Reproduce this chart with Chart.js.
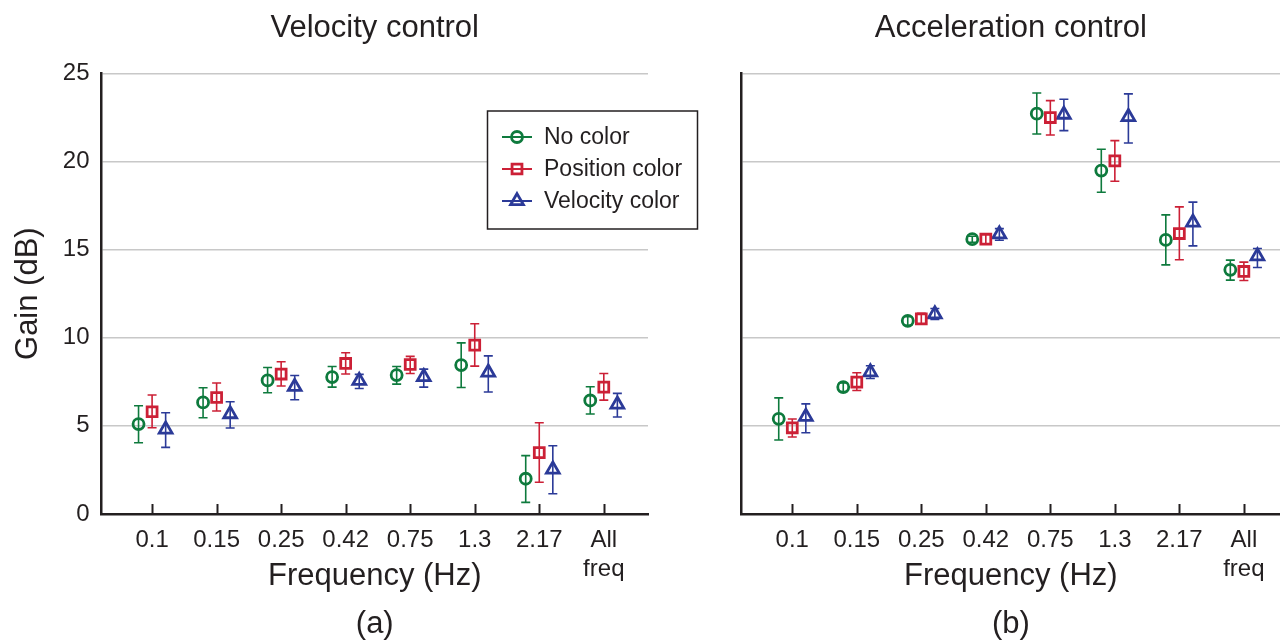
<!DOCTYPE html>
<html>
<head>
<meta charset="utf-8">
<title>Gain by frequency</title>
<script src="https://cdn.jsdelivr.net/npm/chart.js@4.4.1/dist/chart.umd.min.js"></script>
<style>
  html, body { margin: 0; padding: 0; background: #fff; }
  #wrap { position: relative; width: 1280px; height: 643px; overflow: hidden; }
  #velChart { position: absolute; left: 0; top: 0; }
  #accChart { position: absolute; left: 710px; top: 0; }
</style>
</head>
<body>
<div id="wrap">
  <canvas id="velChart" width="710" height="643"></canvas>
  <canvas id="accChart" width="620" height="643"></canvas>
</div>
<script>
// Gain (dB) per stimulus frequency, mean with error range

const categories = ['0.1', '0.15', '0.25', '0.42', '0.75', '1.3', '2.17', ['All', 'freq']];
const yTicks = [0, 5, 10, 15, 20, 25];
const seriesNames = ['No color', 'Position color', 'Velocity color'];

// Velocity control (a)
const velNoColor = [5.10, 6.33, 7.58, 7.77, 7.88, 8.45, 2.00, 6.44];
const velNoColorLow = [4.04, 5.46, 6.88, 7.20, 7.37, 7.18, 0.66, 5.67];
const velNoColorHigh = [6.14, 7.16, 8.31, 8.37, 8.37, 9.71, 3.31, 7.22];
const velPosColor = [5.80, 6.61, 7.94, 8.54, 8.48, 9.58, 3.48, 7.20];
const velPosColorLow = [4.89, 5.84, 7.26, 7.94, 7.97, 8.39, 1.80, 6.46];
const velPosColorHigh = [6.75, 7.43, 8.64, 9.15, 8.94, 10.79, 5.18, 7.97];
const velVelColor = [4.80, 5.67, 7.22, 7.56, 7.78, 8.03, 2.53, 6.22];
const velVelColorLow = [3.78, 4.88, 6.48, 7.12, 7.20, 6.92, 1.15, 5.50];
const velVelColorHigh = [5.74, 6.37, 7.86, 7.92, 8.22, 8.97, 3.87, 6.84];

// Acceleration control (b)
const accNoColor = [5.40, 7.20, 10.96, 15.59, 22.71, 19.48, 15.55, 13.85];
const accNoColorLow = [4.20, 6.95, 10.71, 15.42, 21.56, 18.25, 14.13, 13.27];
const accNoColorHigh = [6.59, 7.44, 11.19, 15.76, 23.88, 20.69, 16.97, 14.40];
const accPosColor = [4.89, 7.48, 11.07, 15.59, 22.49, 20.03, 15.91, 13.76];
const accPosColorLow = [4.37, 7.01, 10.77, 15.31, 21.50, 18.88, 14.42, 13.25];
const accPosColorHigh = [5.39, 8.01, 11.38, 15.87, 23.45, 21.18, 17.42, 14.29];
const accVelColor = [5.52, 8.05, 11.34, 15.87, 22.66, 22.53, 16.54, 14.63];
const accVelColorLow = [4.61, 7.69, 11.04, 15.53, 21.75, 21.05, 15.21, 13.98];
const accVelColorHigh = [6.25, 8.41, 11.66, 16.19, 23.53, 23.83, 17.69, 15.06];

// Styling
const INK = '#231f20';
const GRID = '#c8c8c8';
const colors = ['#0e7a3d', '#cc2036', '#2b3a98'];
const shapes = ['circle', 'rect', 'triangle'];
const radii = [5.5, 7, 7.4];
const dodge = [-0.21, 0, 0.21];

Chart.defaults.font.family = '"Liberation Sans", Arial, Helvetica, sans-serif';
Chart.defaults.color = INK;

function buildDatasets(means, lows, highs) {
  return means.map((vals, s) => ({
    label: seriesNames[s],
    data: vals.map((v, i) => ({ x: i + dodge[s], y: v, lo: lows[s][i], hi: highs[s][i] })),
    pointStyle: shapes[s],
    pointRadius: radii[s],
    pointHoverRadius: radii[s],
    borderColor: colors[s],
    backgroundColor: 'rgba(0,0,0,0)',
    borderWidth: 2.8,
    showLine: false
  }));
}

// Vertical error bars with caps, drawn under the markers
const errorBars = {
  id: 'errorBars',
  beforeDatasetsDraw(chart) {
    const { ctx, scales: { x, y } } = chart;
    ctx.save();
    ctx.lineWidth = 1.6;
    chart.data.datasets.forEach(ds => {
      ctx.strokeStyle = ds.borderColor;
      ds.data.forEach(p => {
        const px = x.getPixelForValue(p.x);
        const top = y.getPixelForValue(p.hi);
        const bot = y.getPixelForValue(p.lo);
        ctx.beginPath();
        ctx.moveTo(px, top);
        ctx.lineTo(px, bot);
        ctx.moveTo(px - 4.5, top);
        ctx.lineTo(px + 4.5, top);
        ctx.moveTo(px - 4.5, bot);
        ctx.lineTo(px + 4.5, bot);
        ctx.stroke();
      });
    });
    ctx.restore();
  }
};

// Short tick marks pointing into the plot
const innerTicks = {
  id: 'innerTicks',
  afterDraw(chart) {
    const { ctx, chartArea, scales: { x } } = chart;
    ctx.save();
    ctx.strokeStyle = INK;
    ctx.lineWidth = 2;
    categories.forEach((c, i) => {
      const px = Math.round(x.getPixelForValue(i)) + 0.5;
      ctx.beginPath();
      ctx.moveTo(px, chartArea.bottom);
      ctx.lineTo(px, chartArea.bottom - 10);
      ctx.stroke();
    });
    ctx.restore();
  }
};

// Boxed legend with line-through markers
const boxLegend = {
  id: 'boxLegend',
  afterDraw(chart) {
    const { ctx } = chart;
    const box = { left: 487.5, top: 111, width: 210, height: 118 };
    ctx.save();
    ctx.fillStyle = '#fff';
    ctx.fillRect(box.left, box.top, box.width, box.height);
    ctx.strokeStyle = INK;
    ctx.lineWidth = 1.5;
    ctx.strokeRect(box.left, box.top, box.width, box.height);
    ctx.font = '23px "Liberation Sans", Arial, sans-serif';
    ctx.textBaseline = 'middle';
    chart.data.datasets.forEach((ds, s) => {
      const rowY = 137 + s * 32;
      ctx.strokeStyle = ds.borderColor;
      ctx.lineWidth = 2;
      ctx.beginPath();
      ctx.moveTo(502, rowY);
      ctx.lineTo(532, rowY);
      ctx.stroke();
      ctx.fillStyle = 'rgba(0,0,0,0)';
      ctx.lineWidth = 2.8;
      Chart.helpers.drawPoint(ctx, { pointStyle: shapes[s], radius: radii[s], borderWidth: 2.8, rotation: 0 }, 517, rowY);
      ctx.fillStyle = INK;
      ctx.fillText(ds.label, 544, rowY + 1);
    });
    ctx.restore();
  }
};

function makeChart(canvasId, opts) {
  const chart = new Chart(document.getElementById(canvasId), {
    type: 'scatter',
    data: { datasets: buildDatasets(opts.means, opts.lows, opts.highs) },
    options: {
      responsive: false,
      animation: false,
      events: [],
      layout: { padding: { left: 0, right: opts.padRight, top: 0, bottom: 0 } },
      plugins: {
        legend: { display: false },
        tooltip: { enabled: false },
        title: {
          display: true,
          text: opts.title,
          fullSize: false,
          font: { size: 31, weight: 'normal' },
          color: INK,
          padding: { top: 10, bottom: 26.1 }
        },
        subtitle: {
          display: true,
          position: 'bottom',
          text: opts.caption,
          fullSize: false,
          font: { size: 31, weight: 'normal' },
          color: INK,
          padding: { top: 0, bottom: 0.4 }
        }
      },
      scales: {
        x: {
          type: 'linear',
          min: opts.xMin,
          max: opts.xMax,
          afterBuildTicks: scale => { scale.ticks = categories.map((c, i) => ({ value: i })); },
          afterFit: scale => {
            scale.height = 91.4;
            scale.paddingLeft = 0;
            scale.paddingRight = 0;
          },
          ticks: {
            callback: (value, index) => categories[index],
            font: { size: 24 },
            color: INK,
            padding: 12,
            autoSkip: false,
            maxRotation: 0,
            minRotation: 0
          },
          grid: { display: false, drawTicks: false },
          border: { display: true, color: INK, width: 2.5 },
          title: {
            display: true,
            text: 'Frequency (Hz)',
            font: { size: 31 },
            color: INK,
            padding: { top: 0, bottom: 10 }
          }
        },
        y: {
          min: 0,
          max: 25,
          afterBuildTicks: scale => { scale.ticks = yTicks.map(v => ({ value: v })); },
          afterFit: scale => { scale.width = opts.yWidth; },
          ticks: { display: opts.showY, font: { size: 24 }, color: INK, padding: 12 },
          grid: {
            color: ctx => (ctx.tick && ctx.tick.value === 0 ? 'rgba(0,0,0,0)' : GRID),
            lineWidth: 1.5,
            drawTicks: false
          },
          border: { display: true, color: INK, width: 2.5 },
          title: {
            display: opts.showY,
            text: 'Gain (dB)',
            font: { size: 31 },
            color: INK,
            padding: { top: 9.5, bottom: 0 }
          }
        }
      }
    },
    plugins: opts.plugins
  });

  // nudge the right padding so the plot ends where the reference plot ends
  const diff = chart.chartArea.right - opts.areaRight;
  if (Math.abs(diff) > 0.25) {
    chart.options.layout.padding.right += diff;
    chart.update();
  }
  return chart;
}

makeChart('velChart', {
  title: 'Velocity control',
  caption: '(a)',
  means: [velNoColor, velPosColor, velVelColor],
  lows: [velNoColorLow, velPosColorLow, velVelColorLow],
  highs: [velNoColorHigh, velPosColorHigh, velVelColorHigh],
  xMin: -0.784,
  xMax: 7.685,
  yWidth: 101.5,
  padRight: 62,
  areaRight: 648,
  showY: true,
  plugins: [errorBars, innerTicks, boxLegend]
});

makeChart('accChart', {
  title: 'Acceleration control',
  caption: '(b)',
  means: [accNoColor, accPosColor, accVelColor],
  lows: [accNoColorLow, accPosColorLow, accVelColorLow],
  highs: [accNoColorHigh, accPosColorHigh, accVelColorHigh],
  xMin: -0.784,
  xMax: 7.56,
  yWidth: 31.7,
  padRight: 50,
  areaRight: 570,
  showY: false,
  plugins: [errorBars, innerTicks]
});
</script>
</body>
</html>
